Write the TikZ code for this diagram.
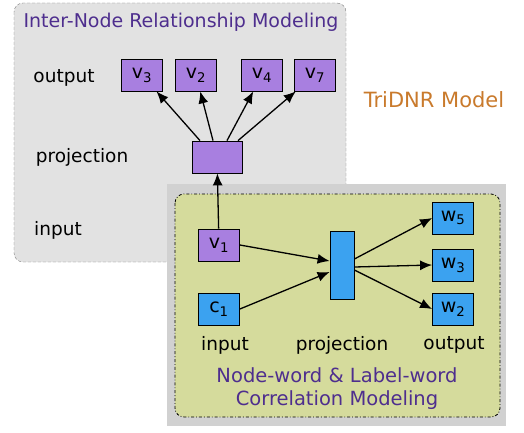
\documentclass[tikz,border=0pt]{standalone}
\usepackage{fontspec}
\setmainfont{DejaVu Sans}
\usetikzlibrary{calc, arrows.meta, positioning}
\definecolor{nodePurple}{HTML}{A87FE0}
\definecolor{wordBlue}{HTML}{3BA2F0}
\definecolor{paneGray}{HTML}{E2E2E2}
\definecolor{paneGreen}{HTML}{D5DB9C}
\definecolor{titlePurple}{HTML}{4E2E8E}
\definecolor{modelOrange}{HTML}{C97A2C}

\begin{document}
\begin{tikzpicture}[x=1pt, y=-1pt]
            \tikzset{vbox/.style = {draw, thick, fill=nodePurple, minimum width=41pt, minimum height=32pt, inner sep=0pt, font=\fontsize{19}{21}\selectfont}}
            \tikzset{wbox/.style = {vbox, fill=wordBlue}}
            \tikzset{edge/.style = {line width=1.3pt, -{Latex[length=12pt, width=10pt]}}}
            \tikzset{lbl/.style = {font=\fontsize{18.5}{21}\selectfont}}
            \tikzset{heading/.style = {titlePurple, font=\fontsize{19}{23}\selectfont, align=center}}
            \useasboundingbox (0,0) rectangle (524,433);

            % panels
            \draw[gray, dash pattern=on 3pt off 2pt, fill=paneGray, rounded corners=9pt] (14,3) rectangle (346,262);
            \fill[black!18] (167,184) rectangle (506,426);
            \draw[thick, dash dot, fill=paneGreen, rounded corners=9pt] (175,194) rectangle (500,417);

            % texts
            \node[heading] (top title) at (181,22) {Inter-Node Relationship Modeling};
            \node[heading, font=\fontsize{19.5}{23}\selectfont] (bottom title) at (337,389) {Node-word \& Label-word\\Correlation Modeling};
            \node[modelOrange, font=\fontsize{21}{24}\selectfont] (model) at (434,100) {TriDNR Model};
            \node[lbl] (out top) at (64,78) {output};
            \node[lbl] (proj top) at (82,157) {projection};
            \node[lbl] (in top) at (58,230) {input};
            \node[lbl] (in bot) at (225,345) {input};
            \node[lbl] (proj bot) at (342,345) {projection};
            \node[lbl] (out bot) at (454,345) {output};

            % vertices
            \node[vbox] (v3) at (142,75) {v\textsubscript{3}};
            \node[vbox] (v2) at (196,75) {v\textsubscript{2}};
            \node[vbox] (v4) at (262,75) {v\textsubscript{4}};
            \node[vbox] (v7) at (315,75) {v\textsubscript{7}};
            \node[vbox, minimum width=50pt] (proj) at (217,157) {};
            \node[vbox] (v1) at (219,245) {v\textsubscript{1}};
            \node[wbox] (c1) at (219,309) {c\textsubscript{1}};
            \node[wbox, minimum width=24pt, minimum height=68pt] (bar) at (342,265) {};
            \node[wbox] (w5) at (453,218) {w\textsubscript{5}};
            \node[wbox] (w3) at (453,265) {w\textsubscript{3}};
            \node[wbox] (w2) at (453,309) {w\textsubscript{2}};

            %edges
            \draw[edge] (v1) -- (proj);
            \draw[edge] ([xshift=-17pt]proj.north) -- (v3);
            \draw[edge] ([xshift=-4pt]proj.north) -- (v2);
            \draw[edge] ([xshift=10pt]proj.north) -- (v4);
            \draw[edge] ([xshift=21pt]proj.north) -- (v7);
            \draw[edge] (v1.east) -- ([yshift=4pt]bar.west);
            \draw[edge] (c1.east) -- ([yshift=-7pt]bar.west);
            \draw[edge] ([yshift=6pt]bar.east) -- (w5.west);
            \draw[edge] ([yshift=-2pt]bar.east) -- (w3.west);
            \draw[edge] ([yshift=-5pt]bar.east) -- (w2.west);
\end{tikzpicture}
\end{document}
